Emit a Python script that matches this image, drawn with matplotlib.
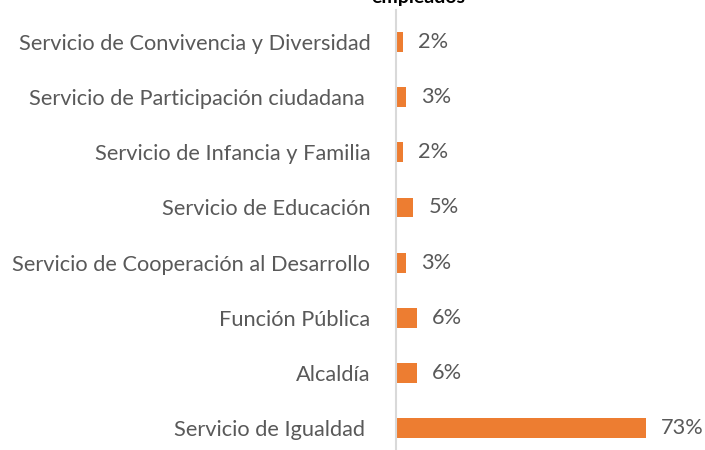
import matplotlib
matplotlib.use("Agg")
import matplotlib.pyplot as plt

categories = [
    "Servicio de Convivencia y Diversidad",
    "Servicio de Participación ciudadana ",
    "Servicio de Infancia y Familia",
    "Servicio de Educación",
    "Servicio de Cooperación al Desarrollo",
    "Función Pública",
    "Alcaldía",
    "Servicio de Igualdad ",
]
values = [2, 3, 2, 5, 3, 6, 6, 73]
value_labels = ["2%", "3%", "2%", "5%", "3%", "6%", "6%", "73%"]
title = "Distribución por servicio de los\nempleados"

plt.rcParams['font.family'] = ['Lato', 'DejaVu Sans']
text_color = "#595959"
bar_color = "#ED7D31"

fig = plt.figure(figsize=(7.05, 4.5), dpi=100)
ax = fig.add_axes([396/705, 0, 309/705, 440/450])

n = len(categories)
ypos = [n - 1 - i for i in range(n)]
ax.barh(ypos, values, height=0.36, color=bar_color)
for y, v, lab in zip(ypos, values, value_labels):
    ax.annotate(lab, (v, y), xytext=(11, 0), textcoords="offset points",
                ha="left", va="center", fontsize=15.7, color=text_color)

ax.set_yticks(ypos)
ax.set_yticklabels(categories, fontsize=15.7, color=text_color)
ax.tick_params(axis="y", length=0, pad=18.5)
ax.set_xticks([])
ax.set_xlim(0, 309/3.42)
ax.set_ylim(-0.4, n - 1 + 0.582)
for s in ["top", "right", "bottom"]:
    ax.spines[s].set_visible(False)
ax.spines["left"].set_color("#D9D9D9")
ax.spines["left"].set_linewidth(1.5)

fig.text(418/705, 1 - 3/450, title, ha="center", va="baseline",
         fontsize=14, fontweight="bold", color="#000000", linespacing=1.2)

fig.savefig("out.png", dpi=100)
